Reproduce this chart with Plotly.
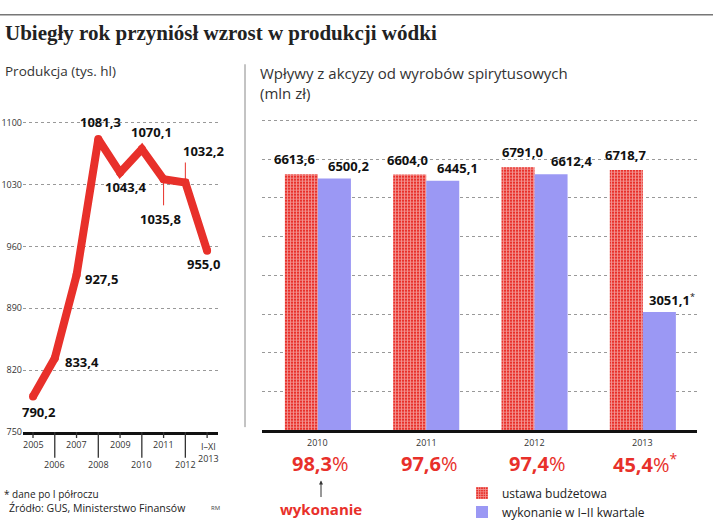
import plotly.graph_objects as go

W, H = 718, 532
def px(x): return x / W
def py(y): return 1 - y / H

# ---------------- data ----------------
prod_years = ["2005", "2006", "2007", "2008", "2009", "2010", "2011", "2012", "I–XI<br>2013"]
production = [790.2, 833.4, 927.5, 1081.3, 1043.4, 1070.1, 1035.8, 1032.2, 955.0]
prod_yticks = [750, 820, 890, 960, 1030, 1100]

excise_years = ["2010", "2011", "2012", "2013"]
budget = [6613.6, 6604.0, 6791.0, 6718.7]
executed = [6500.2, 6445.1, 6612.4, 3051.1]
execution_pct = [98.3, 97.6, 97.4, 45.4]

# ---------------- styles ----------------
RED = "#e8302a"
BLUE = "#9b98f4"
FONT = "Open Sans"
prod_label_shift = [(6, -15), (27, -4), (25, -4), (2, 17), (5, -14), (10, 17), (-3, -40), (18, 32), (-4, -13)]
budget_xshift = [-23, -19, -12, -17]
exec_xshift = [31, 31, 37, 29]

def fmt(v):
    return f"{v:.1f}".replace(".", ",")

fig = go.Figure()
xi = list(range(len(production)))

fig.add_trace(go.Scatter(
    x=xi, y=production, mode="lines+markers",
    line=dict(color=RED, width=8), marker=dict(color=RED, size=8),
    xaxis="x", yaxis="y", showlegend=False, hoverinfo="skip"))

fig.add_trace(go.Bar(
    x=excise_years, y=budget, name="ustawa budżetowa",
    marker=dict(color="white", line=dict(width=0),
                pattern=dict(shape="+", bgcolor=RED, fgcolor="white", size=3, solidity=0.5)),
    xaxis="x2", yaxis="y2"))
fig.add_trace(go.Bar(
    x=excise_years, y=executed, name="wykonanie w I–II kwartale",
    marker=dict(color=BLUE, line=dict(width=0)),
    xaxis="x2", yaxis="y2"))

ann = []
shapes = []

def txt(text, x, y, size, color="#333", xanchor="center", bold=False, family=FONT, **kw):
    d = dict(text=f"<b>{text}</b>" if bold else text, x=x, y=y, xref=kw.pop("xref", "paper"),
             yref=kw.pop("yref", "paper"), xanchor=xanchor, yanchor=kw.pop("yanchor", "middle"),
             showarrow=False, font=dict(family=family, size=size, color=color), borderpad=0)
    d.update(kw)
    ann.append(d)

# title and subtitles
txt("Ubiegły rok przyniósł wzrost w produkcji wódki", px(4), py(33), 21, "#222", "left", True,
    family="Liberation Serif")
txt("Produkcja (tys. hl)", px(4), py(72), 13.5, "#333", "left")
txt("Wpływy z akcyzy od wyrobów spirytusowych<br>(mln zł)", px(259), py(63), 15, "#333", "left",
    yanchor="top", align="left")

shapes.append(dict(type="line", xref="paper", yref="paper", x0=0, x1=px(713), y0=py(15), y1=py(15),
                   line=dict(color="#777", width=1.5)))
shapes.append(dict(type="line", xref="paper", yref="paper", x0=px(245), x1=px(245), y0=py(65), y1=py(432),
                   line=dict(color="#888", width=1)))

# left chart labels
for i, v in enumerate(production):
    dx, dy = prod_label_shift[i]
    txt(fmt(v), i, v, 13, "#111", bold=True, xref="x", yref="y", xshift=dx, yshift=dy)

# leader lines
shapes.append(dict(type="line", xref="x", yref="y", ysizemode="pixel", yanchor=production[6],
                   x0=6, x1=6, y0=0, y1=-26, line=dict(color=RED, width=1)))
shapes.append(dict(type="line", xref="x", yref="y", ysizemode="pixel", yanchor=production[7],
                   x0=7, x1=7, y0=0, y1=20, line=dict(color=RED, width=1)))

# left x ticks and labels
for i, lab in enumerate(prod_years):
    long = i % 2 == 1
    shapes.append(dict(type="line", xref="x", yref="paper", x0=i, x1=i, y0=py(437),
                       y1=py(463 if long else 443), line=dict(color="#333", width=1.3)))
    if "<br>" in lab:
        txt(lab, i, py(444), 9, "#333", xref="x", yanchor="top", xshift=1)
    else:
        txt(lab, i, py(470 if long else 450), 9, "#333", xref="x")

# right chart labels
for i, yr in enumerate(excise_years):
    star = "<sup>*</sup>" if yr == "2013" else ""
    txt(fmt(budget[i]), i, budget[i], 13, "#111", bold=True, xref="x2", yref="y2",
        xshift=budget_xshift[i], yshift=15)
    txt(f"<b>{fmt(executed[i])}</b>{star}", i, executed[i], 13, "#111", xref="x2", yref="y2",
        xshift=exec_xshift[i], yshift=13)
    txt(yr, i, py(447.5), 9, "#333", xref="x2")
    txt(f"<b>{fmt(execution_pct[i])}</b>%{star}", i, py(469), 20, RED, xref="x2", xshift=3)

# wykonanie arrow
ann.append(dict(text="<b>wykonanie</b>", x=px(321), y=py(486), xref="paper", yref="paper",
                showarrow=True, ax=0, ay=28, arrowhead=2, arrowsize=0.8, arrowwidth=1, arrowcolor="#333",
                font=dict(family=FONT, size=15, color=RED)))

# footnotes
txt("* dane po I półroczu", px(3), py(500), 10, "#222", "left")
txt("Źródło: GUS, Ministerstwo Finansów", px(8), py(514), 10.5, "#222", "left")
txt("RM", px(210), py(514), 6, "#444", "left")

fig.update_layout(
    width=W, height=H, margin=dict(l=0, r=0, t=0, b=0),
    paper_bgcolor="white", plot_bgcolor="white",
    font=dict(family=FONT),
    xaxis=dict(domain=[px(23), px(218)], range=[-0.46, 8.5], showgrid=False, zeroline=False,
               showticklabels=False, ticks="", showline=True, linecolor="#111", linewidth=2.5),
    yaxis=dict(domain=[py(437), py(115)], range=[750, 1110], tickvals=prod_yticks,
               ticktext=[str(t) for t in prod_yticks], tickfont=dict(size=9, color="#333"),
               showgrid=True, gridcolor="#999", griddash="dot", gridwidth=1, zeroline=False,
               ticks="", showline=False),
    xaxis2=dict(type="category", domain=[px(262), px(697)], range=[-0.516, 3.5], showgrid=False,
                zeroline=False, showticklabels=False, ticks="", showline=True, linecolor="#111",
                linewidth=2.5, anchor="y2"),
    yaxis2=dict(domain=[py(435), py(118)], range=[0, 8100], dtick=1000, showticklabels=False,
                showgrid=True, gridcolor="#999", griddash="dot", gridwidth=1, zeroline=False,
                anchor="x2", ticks=""),
    barmode="group", bargap=0.39, bargroupgap=0,
    legend=dict(x=px(462), y=py(484), xanchor="left", yanchor="top", bgcolor="rgba(0,0,0,0)",
                font=dict(family=FONT, size=12, color="#222"), tracegroupgap=0, itemwidth=30),
    annotations=ann, shapes=shapes,
)

fig.write_html("out.html")
